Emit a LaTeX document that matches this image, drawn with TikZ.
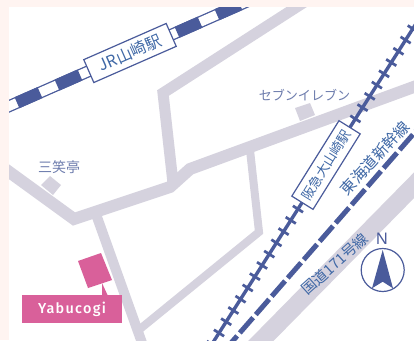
\documentclass[tikz,border=0pt]{standalone}
\usepackage{fontspec}
\newfontfamily\cjk{Noto Sans CJK JP}
\newfontfamily\latinb[LetterSpace=9]{Fira Sans Medium}
\setsansfont{Noto Sans}
\newlength\pxu
\setlength\pxu{0.75pt}
\definecolor{pagebg}{HTML}{FFF4F1}
\definecolor{roadgray}{HTML}{D5D2DE}
\definecolor{railblue}{HTML}{4A5B9B}
\definecolor{labelblue}{HTML}{3F68A6}
\definecolor{placeblue}{HTML}{6D7CAD}
\definecolor{pinkmark}{HTML}{D9609A}
\tikzset{
  x=0.75pt,y=-0.75pt,
  road/.style={draw=roadgray,line width=#1\pxu,line join=miter},
  stationbox/.style={draw=railblue,fill=white,line width=1.2\pxu,minimum width=#1\pxu,minimum height=25\pxu,inner sep=0pt,text=labelblue},
  linelabel/.style={text=labelblue,inner sep=0pt},
  placelabel/.style={text=placeblue,inner sep=0pt},
  building/.style={fill=roadgray,draw=none},
}
\begin{document}
\begin{tikzpicture}
\useasboundingbox (0,0) rectangle (414,340);
\fill[pagebg] (0,0) rectangle (414,340);
\fill[white] (9,7) rectangle (414,340);
\begin{scope}
\clip (9,7) rectangle (414,340);
% roads
\draw[road=11] (320,-8) -- (163,93) -- (173,183);
\draw[road=12] (-10,158) -- (74,219) -- (170,187) -- (190,169) -- (430,81);
\draw[road=10] (97,217) -- (146,354);
\draw[road=8] (250,150) -- (259,232) -- (140,329);
\draw[road=18] (430,169) -- (250,352);
% buildings
\fill[building] (295,108) -- (310,103) -- (315,115) -- (300,121) -- cycle;
\fill[building] (50,176) -- (61,185) -- (53,195) -- (41,185) -- cycle;
% JR line
\draw[railblue,line width=12\pxu] (-23,120.3) -- (260,-4.2);
\draw[white,line width=9.4\pxu] (-23,120.3) -- (260,-4.2);
\draw[railblue,line width=12\pxu,dash pattern=on 25.1\pxu off 18.6\pxu] (-23,120.3) -- (260,-4.2);
\node[stationbox=90,rotate=23.7] (jr) at (130,53) {\cjk\fontsize{12pt}{12pt}\selectfont JR山崎駅};
% Hankyu line
\draw[railblue,line width=3.4\pxu] (211.8,344.3) -- (420,17.4);
\draw[railblue,line width=12\pxu,dash pattern=on 2.7\pxu off 10.66\pxu] (211.1,345.4) -- (420,17.4);
\node[stationbox=89,rotate=58] (hankyu) at (326,165) {\cjk\fontsize{10pt}{11pt}\selectfont 阪急大山崎駅};
% Shinkansen
\draw[railblue,line width=5\pxu,dash pattern=on 20.3\pxu off 4\pxu] (223.8,351.2) -- (430,115);
\node[linelabel,rotate=47.5] (tokaido) at (375,158) {\cjk\fontsize{11.6pt}{12pt}\selectfont 東海道新幹線};
\node[linelabel,rotate=42] (route) at (334.5,264) {\cjk\fontsize{11pt}{12pt}\selectfont 国道171号線};
% places
\node[placelabel] (seven) at (304.5,95) {\cjk\fontsize{9.8pt}{11pt}\selectfont セブンイレブン};
\node[placelabel] (sansho) at (59,167) {\cjk\fontsize{10.5pt}{12pt}\selectfont 三笑亭};
% Yabucogi
\fill[pinkmark] (78,261) -- (101,253) -- (112,280) -- (88,288) -- cycle;
\fill[pinkmark] (102,283) -- (108,296) -- (102,296) -- cycle;
\node[fill=pinkmark,text=white,minimum width=100\pxu,minimum height=28\pxu,inner sep=0pt] (yabu) at (72,309) {\latinb\fontsize{10.8pt}{12pt}\selectfont Yabucogi};
% compass
\node[circle,draw=railblue,line width=1.2\pxu,minimum size=43\pxu,inner sep=0pt] (compass) at (382.7,270) {};
\fill[railblue] (382.7,250) -- (393,288.3) -- (382.7,281.7) -- (372,288.3) -- cycle;
\node[text=railblue,inner sep=0pt] (north) at (382,239) {\sffamily\fontsize{12pt}{12pt}\selectfont N};
\end{scope}
\end{tikzpicture}
\end{document}
